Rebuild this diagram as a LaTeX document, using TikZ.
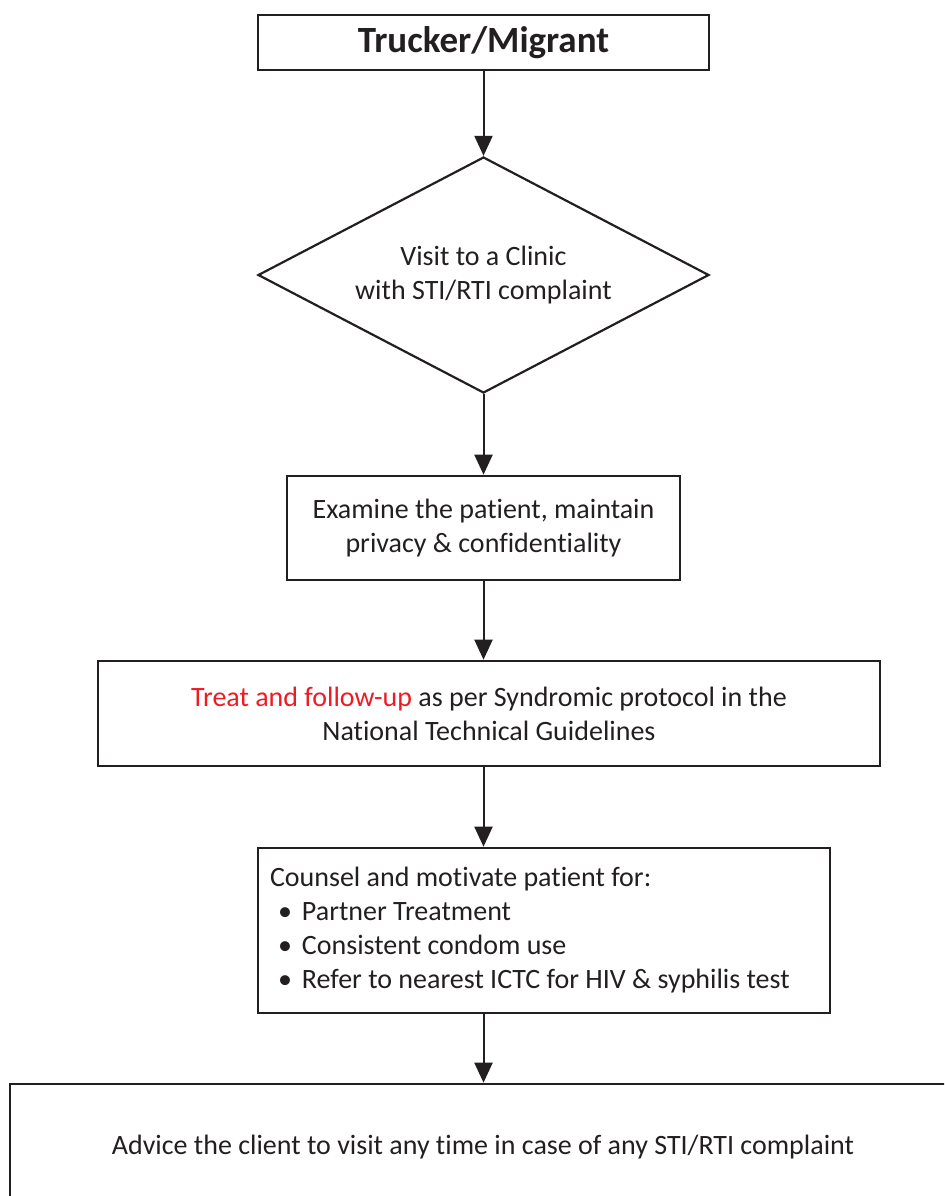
\documentclass[tikz,border=0pt]{standalone}
\usepackage{fontspec}
\setmainfont{Carlito}[Ligatures=NoCommon]
\usetikzlibrary{shapes.geometric,arrows.meta}
\definecolor{inkgray}{RGB}{35,31,32}
\definecolor{treatred}{RGB}{237,28,36}
\newcommand{\bul}[1]{\hspace*{4pt}\makebox[12pt][l]{\textbullet}#1}
\begin{document}
\begin{tikzpicture}[x=0.5pt,y=-0.5pt,
    every node/.style={font=\fontsize{14}{17}\selectfont,text=inkgray},
    box/.style={draw=inkgray,line width=1.3pt,align=center,inner sep=0pt},
    decision/.style={diamond,aspect=1.91,draw=inkgray,line width=1.1pt,align=center,inner sep=0pt},
    arr/.style={draw=inkgray,line width=1pt,-{Triangle[length=10pt,width=9pt]}}]
        \useasboundingbox (0,0) rectangle (944,1196);
        \clip (0,0) rectangle (944,1196);
        \node[box,minimum width=225.5pt,minimum height=27.5pt,
            font=\bfseries\fontsize{18.5}{22}\selectfont] (trucker) at (483.5,42.5) {Trucker/Migrant};
        \node[decision,minimum width=225.5pt,minimum height=118pt] (visit) at (483.5,275)
            {Visit to a Clinic\\with STI/RTI complaint};
        \node[box,minimum width=196.5pt,minimum height=52pt] (exam) at (483.5,528)
            {Examine the patient, maintain\\privacy \& confidentiality};
        \node[box,minimum width=391pt,minimum height=52.5pt] (treat) at (489,713.5)
            {\textcolor{treatred}{Treat and follow-up} as per Syndromic protocol in the\\National Technical Guidelines};
        \node[box,minimum width=286pt,minimum height=82.5pt,text width=274pt,align=flush left] (counsel) at (544,930.5)
            {Counsel and motivate patient for:\\
             \bul{Partner Treatment}\\
             \bul{Consistent condom use}\\
             \bul{Refer to nearest ICTC for HIV \& syphilis test}};
        \node[box,minimum width=473pt,minimum height=63pt] (advice) at (483,1147)
            {Advice the client to visit any time in case of any STI/RTI complaint};
        % connectors
        \draw[arr] (trucker.south) -- (visit.north);
        \draw[arr] (visit.south) -- (exam.north);
        \draw[arr] (exam.south) -- (exam.south |- treat.north);
        \draw[arr] (exam.south |- treat.south) -- (exam.south |- counsel.north);
        \draw[arr] (exam.south |- counsel.south) -- (exam.south |- advice.north);
\end{tikzpicture}
\end{document}
